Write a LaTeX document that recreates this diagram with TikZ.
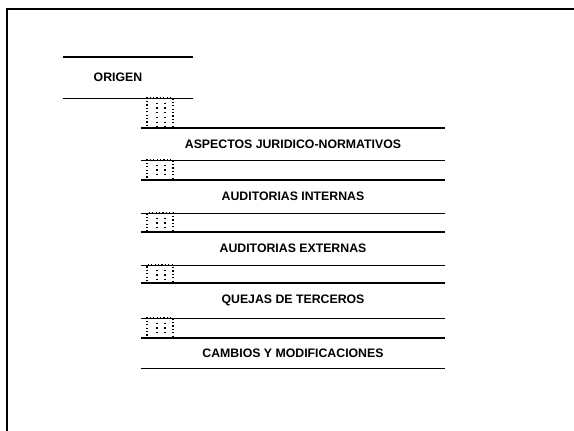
\documentclass[tikz,border=0pt]{standalone}
\usepackage{fontspec}
\setmainfont{Liberation Sans}
\usetikzlibrary{calc}
\tikzset{
  rowbox/.style={draw=none, inner sep=0pt, font=\fontsize{12.3}{14}\selectfont\bfseries,
    append after command={
      \pgfextra{\let\mynode\tikzlastnode}
      (\mynode.north west) edge[rowline] (\mynode.north east)
      (\mynode.south west) edge[rowline] (\mynode.south east)
    }},
  rowline/.style={draw=black, line width=1.4pt},
  connbox/.style={draw=black, dash pattern=on 1.2pt off 2.2pt, line width=1.1pt, inner sep=0pt,
    minimum width=26pt,
    path picture={\draw[black, dash pattern=on 1.2pt off 3.5pt, line width=1.1pt]
      ([xshift=-3pt]path picture bounding box.north) -- ([xshift=-3pt]path picture bounding box.south)
      ([xshift=5pt]path picture bounding box.north) -- ([xshift=5pt]path picture bounding box.south);}},
  frame/.style={line width=2.4pt, draw=black}
}
\begin{document}
\begin{tikzpicture}[x=1pt,y=-1pt]
\useasboundingbox (0,0) rectangle (574,431);
% outer frame
\coordinate (ftl) at (7,9);
\coordinate (ftr) at (574,9);
\coordinate (fbl) at (7,431);
\draw[frame] (ftr) -- (ftl) -- (fbl);
% boxes
\node[rowbox, minimum width=130pt, minimum height=41pt] (origen) at (128,77.5) {\hspace*{-20pt}ORIGEN};
\node[rowbox, minimum width=304pt, minimum height=32pt] (asp) at (293,144) {ASPECTOS JURIDICO-NORMATIVOS};
\node[rowbox, minimum width=304pt, minimum height=33pt] (int) at (293,196.5) {AUDITORIAS INTERNAS};
\node[rowbox, minimum width=304pt, minimum height=33pt] (ext) at (293,248.5) {AUDITORIAS EXTERNAS};
\node[rowbox, minimum width=304pt, minimum height=35pt] (que) at (293,300.5) {QUEJAS DE TERCEROS};
\node[rowbox, minimum width=304pt, minimum height=30pt] (cam) at (293,353) {CAMBIOS Y MODIFICACIONES};
% connectors
\node[connbox, minimum height=30pt] (c1) at (160,113) {};
\node[connbox, minimum height=20pt] (c2) at (160,170) {};
\node[connbox, minimum height=19pt] (c3) at (160,222.5) {};
\node[connbox, minimum height=18pt] (c4) at (160,274) {};
\node[connbox, minimum height=20pt] (c5) at (160,328) {};
\end{tikzpicture}
\end{document}
